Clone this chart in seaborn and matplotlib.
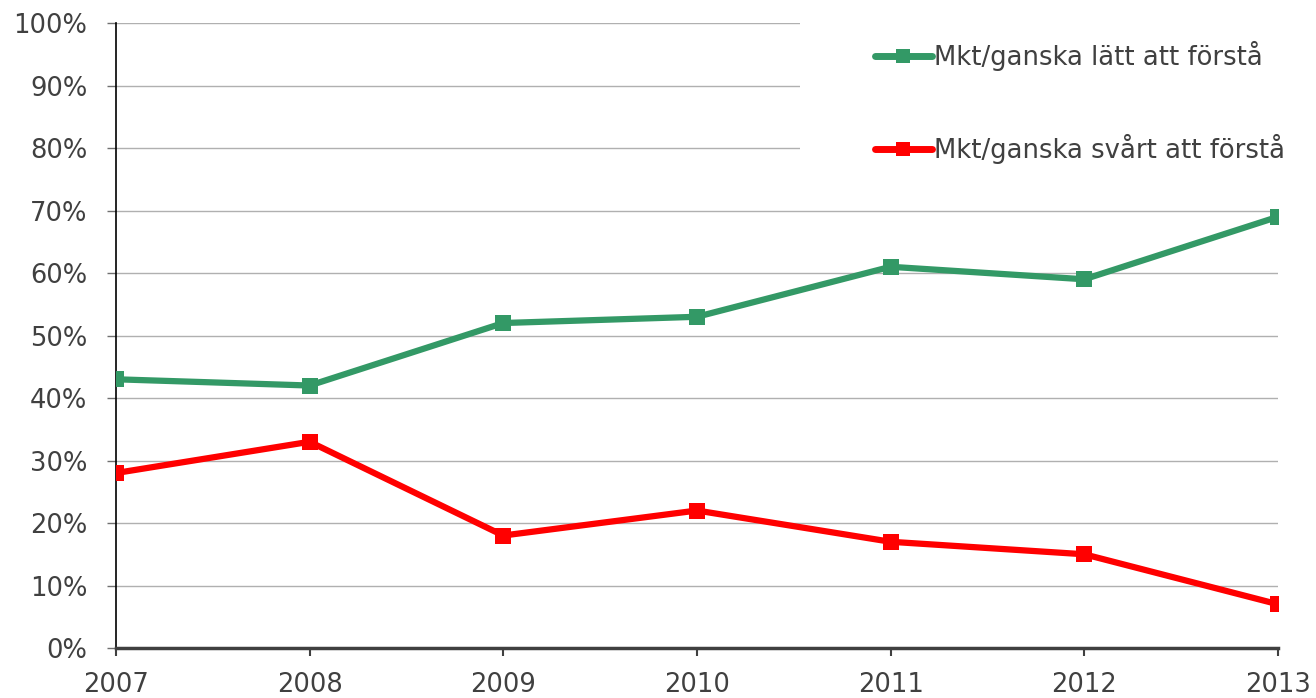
import pandas as pd
import seaborn as sns
import matplotlib.pyplot as plt
from matplotlib.patches import Rectangle
from matplotlib.ticker import PercentFormatter

# data
years = [2007, 2008, 2009, 2010, 2011, 2012, 2013]
latt = [43, 42, 52, 53, 61, 59, 69]
svart = [28, 33, 18, 22, 17, 15, 7]
labels = ["Mkt/ganska lätt att förstå", "Mkt/ganska svårt att förstå"]
colors = ["#339966", "#ff0000"]

df = pd.DataFrame({
    "year": years * 2,
    "value": latt + svart,
    "serie": [labels[0]] * len(years) + [labels[1]] * len(years),
})

sns.set_style("white")
plt.rcParams["font.family"] = ["DejaVu Sans"]
text_col = "#404040"

fig = plt.figure(figsize=(13.16, 6.98), dpi=100)
ax = fig.add_axes([0.0881, 0.0716, 0.9711 - 0.0881, 0.967 - 0.0716])

sns.lineplot(data=df, x="year", y="value", hue="serie", palette=colors,
             style="serie", markers=["s", "s"], dashes=False,
             linewidth=4.5, markersize=12, markeredgewidth=0,
             ax=ax, zorder=3)

ax.set_xlim(2007, 2013)
ax.set_ylim(0, 100)
ax.set_yticks(range(0, 101, 10))
ax.set_xticks(years)
ax.yaxis.set_major_formatter(PercentFormatter(decimals=0))
ax.grid(axis="y", color="#b0b0b0", linewidth=1)
ax.set_axisbelow(True)
ax.set_xlabel("")
ax.set_ylabel("")

for s in ["top", "right"]:
    ax.spines[s].set_visible(False)
ax.spines["left"].set_color("black")
ax.spines["left"].set_linewidth(1.2)
ax.spines["bottom"].set_color("#404040")
ax.spines["bottom"].set_linewidth(2.5)
ax.spines["bottom"].set_zorder(4)

ax.tick_params(axis="y", left=True, length=6.5, width=1, color="#707070",
               labelsize=18.5, labelcolor=text_col, pad=14)
ax.tick_params(axis="x", bottom=True, length=6, width=1.5, color="#404040",
               labelsize=18.5, labelcolor=text_col, pad=11)

# white box behind the legend (hides the upper gridlines on the right)
ax.add_patch(Rectangle((0.5886, 0.75), 0.45, 0.3, transform=ax.transAxes,
                       facecolor="white", edgecolor="none", zorder=2,
                       clip_on=False))

leg = ax.legend(loc="upper left", bbox_to_anchor=(0.653, 0.972),
                frameon=False, fontsize=18.6, handlelength=2.2,
                handletextpad=0.1, labelspacing=2.45, borderpad=0,
                borderaxespad=0, labelcolor=text_col)
leg.set_zorder(5)
for h in leg.get_lines():
    h.set_markersize(9.5)
    h.set_linewidth(5)
    h.set_solid_capstyle("round")

fig.savefig("out.png", dpi=100)
